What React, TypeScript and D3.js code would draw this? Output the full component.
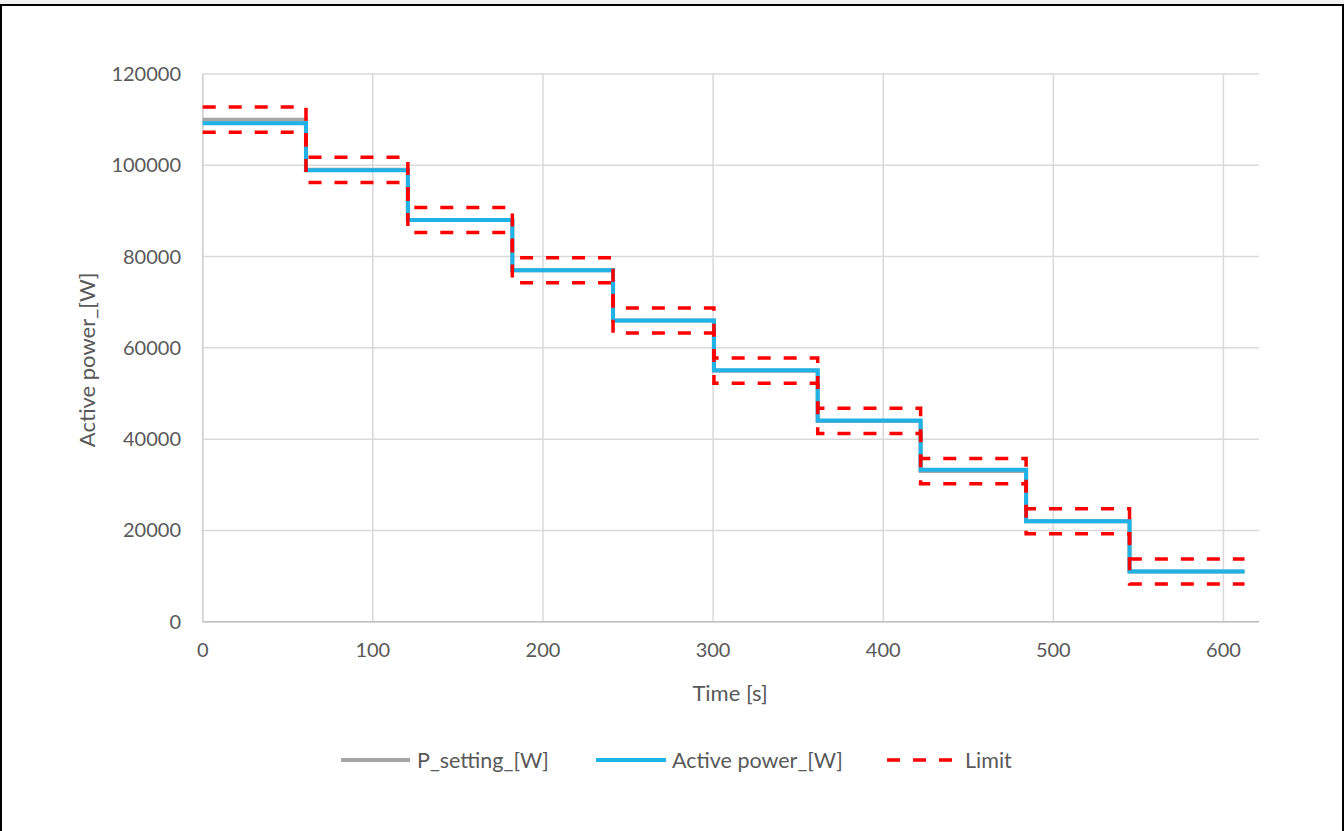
import React from "react";
import * as d3 from "d3";

const stepTimes = [0, 60.7, 120.6, 182, 241.2, 300.5, 361.5, 422, 484, 544.8];
const endTime = 612.4;
const pSetting = [110000, 99000, 88000, 77000, 66000, 55000, 44000, 33000, 22000, 11000];
const activePower = [109200, 98900, 88000, 77000, 66000, 55100, 44100, 33300, 22000, 11000];
const limitBand = 2750;
const xTicks = [0, 100, 200, 300, 400, 500, 600];
const yTicks = [0, 20000, 40000, 60000, 80000, 100000, 120000];

const W = 1344, H = 831;
const left = 202.7, right = 1259, top = 74, bottom = 621.7;
const FONT = "Lato, 'Open Sans', sans-serif";
const TXT = "#595959";

function stepPoints(vals: number[]): [number, number][] {
  const pts: [number, number][] = [];
  vals.forEach((v, i) => {
    const t0 = stepTimes[i];
    const t1 = i + 1 < stepTimes.length ? stepTimes[i + 1] : endTime;
    pts.push([t0, v]);
    pts.push([t1, v]);
  });
  return pts;
}

export default function App() {
  const x = d3.scaleLinear().domain([0, 620.9]).range([left, right]);
  const y = d3.scaleLinear().domain([0, 120000]).range([bottom, top]);
  const line = d3.line<[number, number]>().x(d => x(d[0])).y(d => y(d[1]));

  const upper = pSetting.map(v => v + limitBand);
  const lower = pSetting.map(v => v - limitBand);

  const legendY = 760;

  return (
    <svg width={W} height={H} style={{ position: "absolute", left: 0, top: 0, background: "#fff" }} fontFamily={FONT}>
      <rect x={0} y={0} width={W} height={H} fill="#fff" />
      <rect x={0} y={0} width={W} height={4} fill="#f2f2f2" />
      <line x1={0} x2={W} y1={5} y2={5} stroke="#000" strokeWidth={2} />
      <line x1={1} x2={1} y1={4} y2={H} stroke="#000" strokeWidth={2} />
      <line x1={1343} x2={1343} y1={4} y2={H} stroke="#000" strokeWidth={2} />

      {/* gridlines */}
      {yTicks.map(t => (
        <line key={"gy" + t} x1={left} x2={right} y1={y(t)} y2={y(t)} stroke="#d9d9d9" strokeWidth={1.5} />
      ))}
      {xTicks.map(t => (
        <line key={"gx" + t} x1={x(t)} x2={x(t)} y1={top} y2={bottom} stroke="#d9d9d9" strokeWidth={1.5} />
      ))}
      <line x1={left} x2={left} y1={top} y2={bottom} stroke="#d0d0d0" strokeWidth={1.5} />
      <line x1={left} x2={right} y1={bottom} y2={bottom} stroke="#bfbfbf" strokeWidth={1.5} />

      {/* tick labels */}
      {yTicks.map(t => (
        <text key={"ly" + t} x={181} y={y(t)} dy="0.35em" textAnchor="end" fontSize={20} fill={TXT}>{t}</text>
      ))}
      {xTicks.map(t => (
        <text key={"lx" + t} x={x(t)} y={657} textAnchor="middle" fontSize={20} fill={TXT}>{t}</text>
      ))}

      {/* axis titles */}
      <text x={730} y={701} textAnchor="middle" fontSize={22} fill={TXT}>Time [s]</text>
      <text transform={`translate(95,${(top + bottom) / 2 + 12}) rotate(-90)`} textAnchor="middle" fontSize={22} fill={TXT}>Active power_[W]</text>

      {/* series */}
      <path d={line(stepPoints(pSetting)) || ""} fill="none" stroke="#a5a5a5" strokeWidth={4} />
      <path d={line(stepPoints(activePower)) || ""} fill="none" stroke="#1fb2e6" strokeWidth={4} />
      <path d={line(stepPoints(upper)) || ""} fill="none" stroke="#ff0000" strokeWidth={3.5} strokeDasharray="13 13" />
      <path d={line(stepPoints(lower)) || ""} fill="none" stroke="#ff0000" strokeWidth={3.5} strokeDasharray="13 13" />

      {/* legend */}
      <line x1={341} x2={410} y1={legendY} y2={legendY} stroke="#a5a5a5" strokeWidth={4} />
      <text x={417} y={legendY} dy="0.35em" fontSize={21.5} fill={TXT}>P_setting_[W]</text>
      <line x1={596} x2={666} y1={legendY} y2={legendY} stroke="#1fb2e6" strokeWidth={4} />
      <text x={672} y={legendY} dy="0.35em" fontSize={21.5} fill={TXT}>Active power_[W]</text>
      <line x1={887} x2={958} y1={legendY} y2={legendY} stroke="#ff0000" strokeWidth={3.5} strokeDasharray="13 13" />
      <text x={965} y={legendY} dy="0.35em" fontSize={21.5} fill={TXT}>Limit</text>
    </svg>
  );
}
